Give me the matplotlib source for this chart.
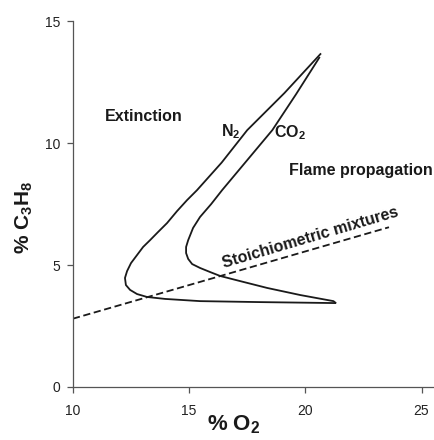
import matplotlib
matplotlib.use("Agg")
import matplotlib.pyplot as plt
import numpy as np

plt.rcParams['font.family'] = ['Liberation Sans', 'DejaVu Sans']
plt.rcParams['mathtext.fontset'] = 'custom'
plt.rcParams['mathtext.rm'] = 'Liberation Sans'
plt.rcParams['mathtext.bf'] = 'Liberation Sans:bold'

# 读图得到的数据 (% O2, % C3H8)
n2_o2 = [20.65, 19.1, 17.5, 16.4, 15.34, 14.91, 14.48, 14.05, 13.66, 13.32, 13.02,
         12.76, 12.50, 12.33, 12.24, 12.28, 12.46, 12.76, 13.19, 13.97, 15.47,
         18.06, 21.29]
n2_c3h8 = [13.65, 12.05, 10.53, 9.2, 8.07, 7.66, 7.21, 6.72, 6.35, 6.02, 5.74,
           5.41, 5.08, 4.75, 4.47, 4.18, 3.98, 3.81, 3.69, 3.61, 3.52,
           3.48, 3.44]

co2_o2 = [20.6, 19.6, 18.58, 17.5, 16.42, 15.95, 15.47, 15.17, 14.96, 14.87, 14.87,
          14.96, 15.13, 15.47, 15.91, 16.34, 17.20, 18.36, 19.78, 21.21, 21.29]
co2_c3h8 = [13.5, 12.0, 10.53, 9.3, 8.07, 7.50, 6.97, 6.52, 6.02, 5.74, 5.49,
            5.25, 5.04, 4.88, 4.71, 4.55, 4.34, 4.06, 3.77, 3.52, 3.46]

stoich_o2 = [10.0, 23.6]
stoich_c3h8 = [2.8, 6.55]

xticks = [10, 15, 20, 25]
yticks = [0, 5, 10, 15]

fig = plt.figure(figsize=(4.34, 4.40), dpi=100)
ax = fig.add_axes([0.168, 0.1205, 0.83, 0.8315])

ax.plot(n2_o2, n2_c3h8, color='#1a1a1a', lw=1.3, solid_joinstyle='round')
ax.plot(co2_o2, co2_c3h8, color='#1a1a1a', lw=1.3, solid_joinstyle='round')
ax.plot(stoich_o2, stoich_c3h8, color='#1a1a1a', lw=1.3, dashes=(4, 2))

ax.set_xlim(10, 25.5)
ax.set_ylim(0, 15)
ax.set_xticks(xticks)
ax.set_yticks(yticks)
ax.spines['top'].set_visible(False)
ax.spines['right'].set_visible(False)
for s in ['left', 'bottom']:
    ax.spines[s].set_color('#555555')
    ax.spines[s].set_linewidth(0.9)
ax.tick_params(axis='both', direction='out', length=4, width=0.9, color='#555555',
               labelsize=10, labelcolor='#222222')
ax.tick_params(axis='x', pad=8)
ax.tick_params(axis='y', pad=5)

# 文字标注
tk = dict(fontsize=11.5, fontweight='bold', color='#1a1a1a', ha='center', va='center')
ax.text(13.06, 11.07, 'Extinction', **tk)
ax.text(16.77, 10.45, r'N$_\mathbf{2}$', **tk)
ax.text(19.35, 10.41, r'CO$_\mathbf{2}$', **tk)
ax.text(22.37, 8.89, 'Flame propagation', **tk)
ax.text(20.22, 6.11, 'Stoichiometric mixtures', rotation=16.5, **tk)

ax.set_xlabel(r'% O$_\mathbf{2}$', fontsize=16, fontweight='bold', color='#1a1a1a')
ax.xaxis.set_label_coords(0.447, -0.072)
ax.set_ylabel(r'% C$_\mathbf{3}$H$_\mathbf{8}$', fontsize=15, fontweight='bold', color='#1a1a1a')
ax.yaxis.set_label_coords(-0.105, 0.464)

fig.savefig('out.png', dpi=100)
